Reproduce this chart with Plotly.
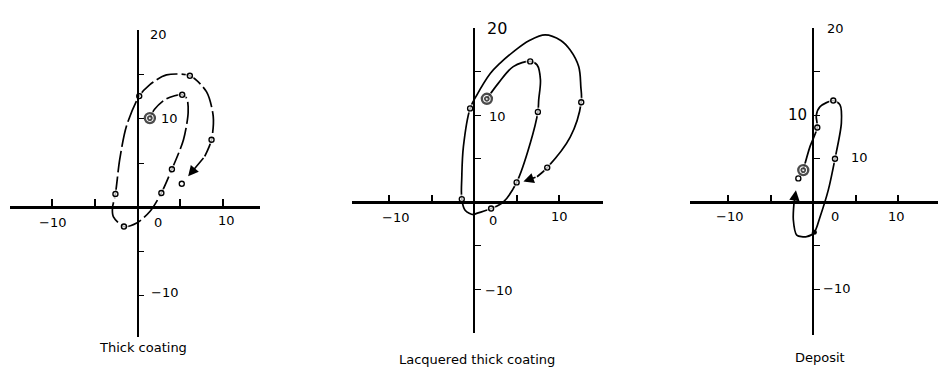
import plotly.graph_objects as go

# ---- Thick coating -------------------------------------------------------
p1_path_a = [1.45, 2.0, 3.4, 5.25, 5.8, 5.95, 5.4, 4.04, 2.8, 1.45, -0.1, -1.6, -2.85,
             -2.95, -2.6, -2.1, -1.3, 0.2, 1.45, 3.4, 6.15, 8.1, 8.9, 8.7, 7.9, 5.95]
p1_path_b = [10.1, 11.1, 12.3, 12.75, 12.3, 10.7, 7.65, 4.3, 1.6, -0.5, -1.8, -2.2, -1.07,
             -0.1, 1.5, 5.4, 9.2, 12.6, 13.9, 15.0, 14.9, 13.1, 10.3, 7.65, 5.75, 3.5]
p1_pts_a = [5.25, 4.04, 2.8, -1.6, -2.6, 0.2, 6.15, 8.7, 5.2]
p1_pts_b = [12.75, 4.3, 1.6, -2.2, 1.5, 12.6, 14.9, 7.65, 2.65]
p1_start = (1.45, 10.1)

# ---- Lacquered thick coating --------------------------------------------
p2_path_a = [1.5, 2.86, 4.6, 6.6, 7.4, 7.8, 7.6, 7.5, 6.6, 5.0, 3.45, 2.0, 0.3, -0.08, -1.06,
             -1.45, -1.45, -1.26, -0.47, 0.3, 1.9, 3.06, 4.6, 6.5, 8.35, 10.2, 11.3, 12.3,
             12.55, 12.6, 11.3, 8.6, 7.4, 5.8]
p2_path_b = [11.9, 13.7, 15.6, 16.2, 15.8, 14.1, 11.8, 10.4, 6.8, 2.3, 0.07, -0.7, -1.26, -1.4,
             -0.9, 0.38, 2.9, 6.4, 10.8, 12.3, 14.8, 16.0, 17.3, 18.6, 19.25, 18.6, 17.5, 15.6,
             13.3, 11.5, 7.5, 4.0, 2.95, 2.4]
p2_pts_a = [6.6, 7.5, 5.0, 2.0, -1.45, -0.47, 12.6, 8.6]
p2_pts_b = [16.2, 10.4, 2.3, -0.7, 0.38, 10.8, 11.5, 4.0]
p2_start = (1.5, 11.9)

# ---- Deposit -------------------------------------------------------------
p3_path_a = [-1.18, -0.39, 0.47, 0.35, 0.8, 2.35, 3.14, 3.3, 2.55, 1.76, 0.8, 0.12,
             -0.78, -1.95, -2.35, -2.27, -2.04]
p3_path_b = [3.7, 6.4, 8.6, 10.0, 11.0, 11.7, 11.2, 9.1, 5.0, 1.4, -1.65, -3.45,
             -3.95, -3.76, -2.0, -0.1, 1.4]
p3_pts_a = [0.47, 2.35, 2.55, -1.76]
p3_pts_b = [8.6, 11.7, 5.0, 2.75]
p3_filled = (0.12, -3.45)
p3_start = (-1.18, 3.7)

# tick positions along each axis
x_ticks = [-10, -5, 5, 10]
y_ticks = [-10, -5, 5, 10, 15, 20]

titles = ["Thick coating", "Lacquered thick coating", "Deposit"]

# tick-label texts with the spots where they are lettered: (text, a, b, size)
p1_labels = [("−10", -10, -1.7, 13), ("0", 2.4, -1.7, 13), ("10", 10.5, -1.5, 13),
             ("20", 2.5, 19.6, 13), ("10", 3.8, 10.1, 13), ("−10", 3.2, -9.7, 13),
             ("b", 0.1, 21.5, 12), ("a", 15.6, 0.2, 12)]
p2_labels = [("−10", -9.3, -1.7, 13), ("0", 2.2, -2.1, 13), ("10", 10.1, -1.65, 13),
             ("20", 2.7, 20.0, 16), ("10", 2.7, 9.85, 13), ("−10", 2.9, -10.1, 13),
             ("b", 0.1, 21.6, 10), ("a", 16.4, 0.1, 12)]
p3_labels = [("−10", -9.8, -1.65, 13), ("0", 2.55, -1.65, 13), ("10", 9.8, -1.65, 13),
             ("20", 2.6, 20.0, 13), ("10", -1.9, 10.0, 15), ("10", 5.4, 5.2, 13),
             ("−10", 2.75, -9.9, 13), ("b", 0.0, 21.5, 12)]

# layout geometry of the three panels
panels = [
    dict(xdom=[0.0105, 0.2737], ydom=[0.0826, 0.9183], xr=[-15.0, 14.4], yr=[-14.7, 20.1]),
    dict(xdom=[0.3702, 0.6351], ydom=[0.0926, 0.9229], xr=[-14.4, 15.2], yr=[-15.0, 20.0]),
    dict(xdom=[0.7263, 0.9877], ydom=[0.0872, 0.9229], xr=[-14.5, 14.7], yr=[-15.25, 20.0]),
]
title_pos = [(0.1505, 0.052), (0.502, 0.020), (0.863, 0.027)]

INK = "#000000"
FONT = "DejaVu Sans, Verdana, sans-serif"

fig = go.Figure()
layout = dict(width=950, height=367, margin=dict(l=0, r=0, t=0, b=0),
              paper_bgcolor="white", plot_bgcolor="white", showlegend=False,
              font=dict(family=FONT, color=INK))
annotations = []

data = [
    (p1_path_a, p1_path_b, p1_pts_a, p1_pts_b, p1_start, None, p1_labels, "22px,4px", 0.8),
    (p2_path_a, p2_path_b, p2_pts_a, p2_pts_b, p2_start, None, p2_labels, "solid", 1.0),
    (p3_path_a, p3_path_b, p3_pts_a, p3_pts_b, p3_start, p3_filled, p3_labels, "solid", 0.8),
]

for i, (pa, pb, ma, mb, start, filled, labels, dash, smooth) in enumerate(data):
    n = "" if i == 0 else str(i + 1)
    xa, ya = "x" + n, "y" + n
    pn = panels[i]

    # frame axes drawn as free axes through the origin
    ypos = pn["ydom"][0] + (0 - pn["yr"][0]) / (pn["yr"][1] - pn["yr"][0]) * (pn["ydom"][1] - pn["ydom"][0])
    xpos = pn["xdom"][0] + (0 - pn["xr"][0]) / (pn["xr"][1] - pn["xr"][0]) * (pn["xdom"][1] - pn["xdom"][0])
    layout["xaxis" + n] = dict(domain=pn["xdom"], range=pn["xr"], anchor="free", position=ypos,
                               showline=True, linewidth=2.6, linecolor=INK,
                               ticks="inside", ticklen=7, tickwidth=1.6, tickcolor=INK,
                               tickmode="array", tickvals=x_ticks, showticklabels=False,
                               showgrid=False, zeroline=False, fixedrange=True)
    layout["yaxis" + n] = dict(domain=pn["ydom"], range=pn["yr"], anchor="free", position=xpos,
                               showline=True, linewidth=1.6, linecolor=INK,
                               ticks="inside", ticklen=6, tickwidth=1.4, tickcolor=INK,
                               tickmode="array", tickvals=y_ticks, showticklabels=False,
                               showgrid=False, zeroline=False, fixedrange=True)

    # the colour path
    fig.add_trace(go.Scatter(x=pa[:-1], y=pb[:-1], mode="lines", xaxis=xa, yaxis=ya,
                             line=dict(color=INK, width=1.7, shape="spline", smoothing=smooth, dash=dash),
                             cliponaxis=False, hoverinfo="skip"))
    # white halos open a small gap in the path round each reading
    fig.add_trace(go.Scatter(x=ma + [start[0]], y=mb + [start[1]], mode="markers", xaxis=xa, yaxis=ya,
                             marker=dict(symbol="circle", size=[9] * len(ma) + [14], color="white",
                                         line=dict(width=0)), hoverinfo="skip"))
    # readings
    fig.add_trace(go.Scatter(x=ma, y=mb, mode="markers", xaxis=xa, yaxis=ya,
                             marker=dict(symbol="circle-open", size=5, color=INK, line=dict(width=1.4))))
    # starting point: double ring
    fig.add_trace(go.Scatter(x=[start[0], start[0]], y=[start[1], start[1]], mode="markers",
                             xaxis=xa, yaxis=ya,
                             marker=dict(symbol="circle-open", size=[10, 4], color=INK,
                                         line=dict(width=[2.4, 1.8]))))
    if filled:
        fig.add_trace(go.Scatter(x=[filled[0]], y=[filled[1]], mode="markers", xaxis=xa, yaxis=ya,
                                 marker=dict(symbol="circle", size=5, color=INK)))

    # arrowhead at the end of the path
    annotations.append(dict(x=pa[-1], y=pb[-1], ax=pa[-2], ay=pb[-2], xref=xa, yref=ya,
                            axref=xa, ayref=ya, text="", showarrow=True, arrowhead=2,
                            arrowsize=1.3, arrowwidth=1.6, arrowcolor=INK, standoff=0))

    for txt, a, b, size in labels:
        annotations.append(dict(x=a, y=b, xref=xa, yref=ya, text=txt, showarrow=False,
                                xanchor="center", yanchor="middle",
                                font=dict(size=size, family=FONT, color=INK)))

    annotations.append(dict(x=title_pos[i][0], y=title_pos[i][1], xref="paper", yref="paper",
                            text=titles[i], showarrow=False, xanchor="center", yanchor="middle",
                            font=dict(size=13, family=FONT, color=INK)))

layout["annotations"] = annotations
fig.update_layout(**layout)
fig.write_html("out.html")
